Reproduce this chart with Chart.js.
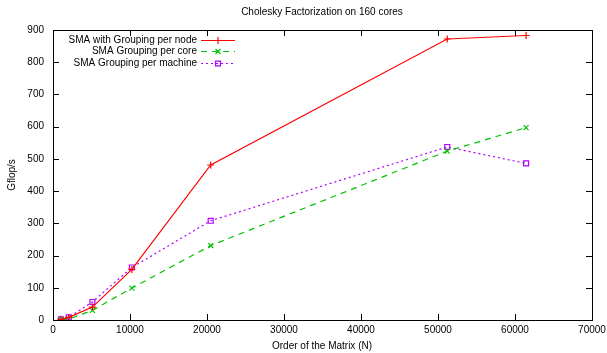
<!DOCTYPE html>
<html><head><meta charset="utf-8">
<script src="https://cdn.jsdelivr.net/npm/chart.js@4.4.0/dist/chart.umd.min.js"></script>
<style>html,body{margin:0;padding:0;background:#fff}#wrap{width:607px;height:353px}</style>
</head><body><div id="wrap"><canvas id="c" width="607" height="353"></canvas></div>
<script>
const matrixOrder = [1024, 2048, 5120, 10240, 20480, 51200, 61440];
const perNode    = [2, 8, 40, 157, 481, 872, 883];
const perCore    = [1, 3, 30, 99, 231, 524, 597];
const perMachine = [2, 8, 56, 163, 308, 537, 486];
const seriesNames = ['SMA with Grouping per node', 'SMA Grouping per core', 'SMA Grouping per machine'];
const titleText = 'Cholesky Factorization on 160 cores';
const xTitle = 'Order of the Matrix (N)';
const yTitle = 'Gflop/s';

const FONT = '"Liberation Sans", Arial, sans-serif';
const colors = ['#ff0000', '#00c000', '#b000ff'];
const dashes = [[], [6, 5], [2, 3]];
const points = ['cross', 'crossRot', 'rect'];

function toXY(vals){ return matrixOrder.map((x,i)=>({x, y: vals[i]})); }

const datasets = [perNode, perCore, perMachine].map((v,i)=>({
  label: seriesNames[i],
  data: toXY(v),
  borderColor: colors[i],
  backgroundColor: 'rgba(0,0,0,0)',
  pointBorderColor: colors[i],
  pointBackgroundColor: 'rgba(0,0,0,0)',
  borderWidth: 1.2,
  borderDash: dashes[i],
  pointStyle: points[i],
  pointRadius: i===2 ? 3.5 : 3.5,
  pointBorderWidth: 1.2,
  tension: 0,
  fill: false
}));

const decor = {
  id: 'decor',
  afterDraw(chart){
    const ctx = chart.ctx, a = chart.chartArea;
    const xs = chart.scales.x, ys = chart.scales.y;
    ctx.save();
    ctx.strokeStyle = '#000'; ctx.lineWidth = 1;
    ctx.strokeRect(Math.round(a.left)+0.5, Math.round(a.top)+0.5, Math.round(a.right-a.left), Math.round(a.bottom-a.top));
    ctx.beginPath();
    xs.ticks.forEach(t=>{
      const px = Math.round(xs.getPixelForValue(t.value))+0.5;
      ctx.moveTo(px, a.bottom); ctx.lineTo(px, a.bottom-6);
      ctx.moveTo(px, a.top); ctx.lineTo(px, a.top+6);
    });
    ys.ticks.forEach(t=>{
      const py = Math.round(ys.getPixelForValue(t.value))+0.5;
      ctx.moveTo(a.left, py); ctx.lineTo(a.left+6, py);
      ctx.moveTo(a.right, py); ctx.lineTo(a.right-6, py);
    });
    ctx.stroke();
    ctx.fillStyle = '#000';
    ctx.font = '10px ' + FONT;
    ctx.textAlign = 'center'; ctx.textBaseline = 'middle';
    ctx.fillText(titleText, 322, 12);
    ctx.fillText(xTitle, 322, 346);
    ctx.save();
    ctx.translate(12, 175); ctx.rotate(-Math.PI/2);
    ctx.fillText(yTitle, 0, 0);
    ctx.restore();
    // legend
    const rows = [40, 51, 63];
    chart.data.datasets.forEach((ds,i)=>{
      const y = rows[i];
      ctx.textAlign = 'right'; ctx.fillStyle = '#000';
      ctx.fillText(ds.label, 197, y);
      ctx.save();
      ctx.strokeStyle = ds.borderColor; ctx.lineWidth = 1.2;
      ctx.setLineDash(ds.borderDash);
      ctx.beginPath(); ctx.moveTo(201, y+0.5); ctx.lineTo(235, y+0.5); ctx.stroke();
      ctx.setLineDash([]);
      ctx.lineWidth = ds.pointBorderWidth; ctx.strokeStyle = ds.pointBorderColor;
      ctx.fillStyle = 'rgba(0,0,0,0)';
      Chart.helpers.drawPoint(ctx, { pointStyle: ds.pointStyle, radius: ds.pointRadius, borderWidth: ds.pointBorderWidth, rotation: 0 }, 218, y+0.5);
      ctx.restore();
    });
    ctx.restore();
  }
};

new Chart(document.getElementById('c'), {
  type: 'line',
  data: { datasets },
  options: {
    responsive: false,
    animation: false,
    devicePixelRatio: 1,
    layout: { padding: { left: 0, right: 15, top: 30, bottom: 0 } },
    plugins: { legend: { display: false }, tooltip: { enabled: false } },
    scales: {
      x: {
        type: 'linear', min: 0, max: 70000,
        ticks: { stepSize: 10000, color: '#000', font: { size: 10, family: FONT }, padding: 4, maxRotation: 0, autoSkip: false,
                 callback: v => String(v) },
        grid: { display: false, drawTicks: false },
        border: { display: false },
        afterFit(s){ s.height = 33; s.paddingLeft = 0; s.paddingRight = 0; }
      },
      y: {
        type: 'linear', min: 0, max: 900,
        ticks: { stepSize: 100, color: '#000', font: { size: 10, family: FONT }, padding: 9, callback: v => String(v) },
        grid: { display: false, drawTicks: false },
        border: { display: false },
        afterFit(s){ s.width = 53; s.paddingTop = 0; s.paddingBottom = 0; }
      }
    }
  },
  plugins: [decor]
});
</script></body></html>
